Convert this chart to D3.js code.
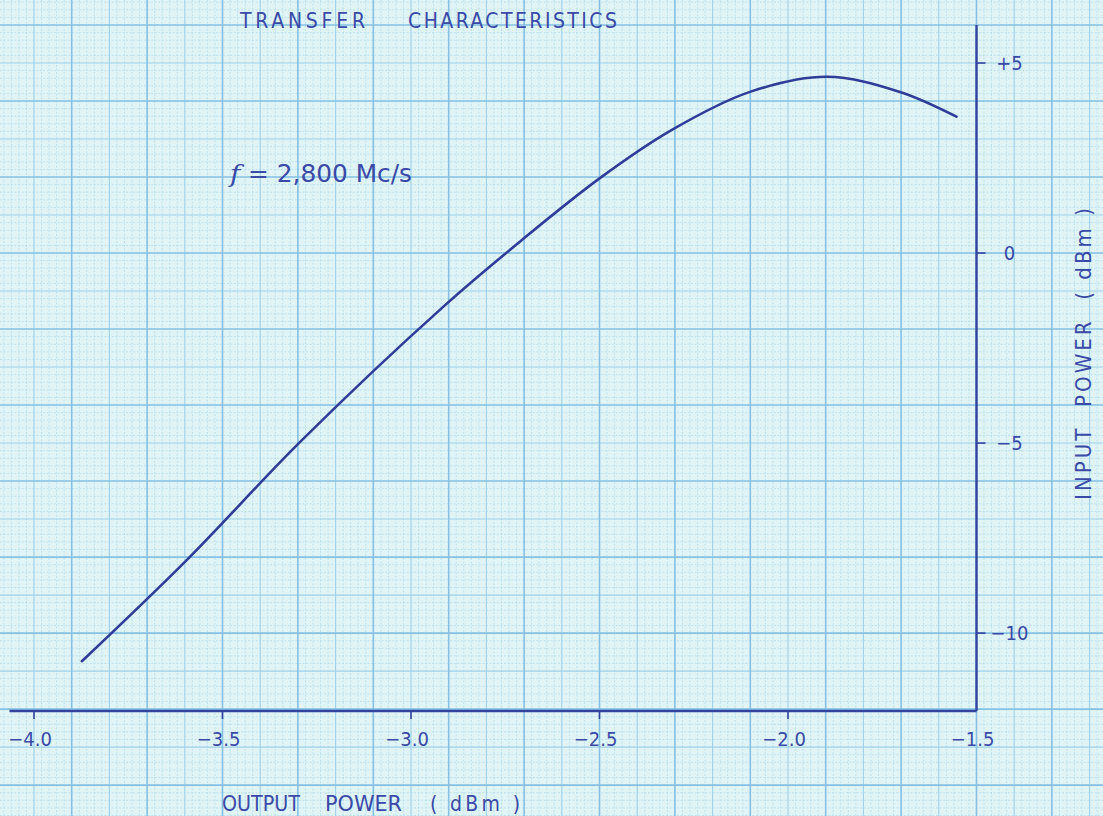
<!DOCTYPE html>
<html>
<head>
<meta charset="utf-8">
<script src="https://cdn.jsdelivr.net/npm/d3@7"></script>
<style>
  html, body { margin: 0; padding: 0; background: #e0f4f6; }
  svg { display: block; }
  text { font-family: "DejaVu Sans Condensed", "DejaVu Sans", sans-serif; fill: #3a4aa6; }
</style>
</head>
<body>
<svg id="chart" width="1103" height="816"></svg>
<script>
// Output power (dBm) on the horizontal axis, input power (dBm) on the vertical axis
const outputPower = [-3.873, -3.595, -3.294, -2.914, -2.711, -2.499, -2.308, -2.101, -1.897, -1.703, -1.553];
const inputPower  = [-10.74, -8.08, -4.97, -1.41, 0.30, 1.97, 3.24, 4.24, 4.64, 4.24, 3.59];

const xTicks = [-4.0, -3.5, -3.0, -2.5, -2.0, -1.5];
const xTickLabels = ["\u22124.0", "\u22123.5", "\u22123.0", "\u22122.5", "\u22122.0", "\u22121.5"];
const yTicks = [5, 0, -5, -10];
const yTickLabels = ["+5", "0", "\u22125", "\u221210"];

const W = 1103, H = 816;
const ink = "#33439e";

const svg = d3.select("#chart");

// scales: x(-4) at the left tick, x(-1.5) at the vertical axis
const x = d3.scaleLinear().domain([-4, -1.5]).range([34, 976.5]);
const y = d3.scaleLinear().domain([6, -12.05]).range([25, 711]);

// ---- graph-paper grid: 1 mm minor, 5 mm medium, 10 mm heavy ----
const grid = svg.append("g");
const xStep = 0.02, yStep = 0.2;
const xi0 = Math.floor((x.invert(0) + 1.5) / xStep) - 1;
const xi1 = Math.ceil((x.invert(W) + 1.5) / xStep) + 1;
const yi0 = Math.floor(y.invert(H) / yStep) - 1;
const yi1 = Math.ceil(y.invert(0) / yStep) + 1;

const mod = (a, n) => ((a % n) + n) % n;
const kind = i => (mod(i, 10) === 0 ? "heavy" : (mod(i, 5) === 0 ? "medium" : "minor"));
const gstyle = {
  minor:  { stroke: "#b3dcec", width: 0.8, dash: "2,1.6" },
  medium: { stroke: "#a0d0e8", width: 1.1, dash: null },
  heavy:  { stroke: "#86c0e3", width: 1.6, dash: null }
};

["minor", "medium", "heavy"].forEach(k => {
  const vx = d3.range(xi0, xi1 + 1).filter(i => kind(i) === k).map(i => -1.5 + i * xStep);
  grid.append("g").selectAll("line").data(vx).join("line")
    .attr("x1", d => x(d)).attr("x2", d => x(d))
    .attr("y1", 0).attr("y2", H)
    .attr("stroke", gstyle[k].stroke)
    .attr("stroke-width", gstyle[k].width)
    .attr("stroke-dasharray", gstyle[k].dash);
  const vy = d3.range(yi0, yi1 + 1).filter(i => kind(i) === k).map(i => i * yStep);
  grid.append("g").selectAll("line").data(vy).join("line")
    .attr("x1", 0).attr("x2", W)
    .attr("y1", d => y(d)).attr("y2", d => y(d))
    .attr("stroke", gstyle[k].stroke)
    .attr("stroke-width", gstyle[k].width)
    .attr("stroke-dasharray", gstyle[k].dash);
});

// ---- axes ----
const axes = svg.append("g").attr("stroke", ink).attr("stroke-width", 2.4).attr("fill", "none");
axes.append("line")
  .attr("x1", x(-4.065)).attr("x2", x(-1.5))
  .attr("y1", y(-12.05)).attr("y2", y(-12.05));
axes.append("line")
  .attr("x1", x(-1.5)).attr("x2", x(-1.5))
  .attr("y1", y(6)).attr("y2", y(-12.05));

// x ticks point downward
axes.append("g").selectAll("line").data(xTicks.slice(0, -1)).join("line")
  .attr("stroke-width", 1.6)
  .attr("x1", d => x(d)).attr("x2", d => x(d))
  .attr("y1", y(-12.05)).attr("y2", y(-12.05) + 8);

// y ticks point to the right
axes.append("g").selectAll("line").data(yTicks).join("line")
  .attr("stroke-width", 1.6)
  .attr("x1", x(-1.5)).attr("x2", x(-1.5) + 9)
  .attr("y1", d => y(d)).attr("y2", d => y(d));

// tick labels
svg.append("g").selectAll("text").data(xTicks).join("text")
  .attr("x", d => x(d) - 4)
  .attr("y", y(-12.05) + 35)
  .attr("text-anchor", "middle")
  .attr("font-size", 20)
  .text((d, i) => xTickLabels[i]);

svg.append("g").selectAll("text").data(yTicks).join("text")
  .attr("x", x(-1.5) + 33)
  .attr("y", d => y(d) + 7)
  .attr("text-anchor", "middle")
  .attr("font-size", 20)
  .text((d, i) => yTickLabels[i]);

// ---- transfer curve ----
const line = d3.line()
  .x(d => x(d[0]))
  .y(d => y(d[1]))
  .curve(d3.curveCatmullRom.alpha(0.5));

svg.append("path")
  .datum(outputPower.map((v, i) => [v, inputPower[i]]))
  .attr("d", line)
  .attr("fill", "none")
  .attr("stroke", "#2f3c98")
  .attr("stroke-width", 2.6)
  .attr("stroke-linecap", "round")
  .attr("stroke-linejoin", "round");

// ---- text ----
function label(txt, x0, y0, size, len, adjust) {
  return svg.append("text")
    .attr("x", x0).attr("y", y0).attr("font-size", size)
    .attr("textLength", len).attr("lengthAdjust", adjust || "spacing")
    .attr("xml:space", "preserve")
    .text(txt);
}
label("TRANSFER", 240, 28, 21, 125);
label("CHARACTERISTICS", 408, 28, 21, 209);

const ft = svg.append("text").attr("x", 230).attr("y", 182).attr("font-size", 25)
  .attr("textLength", 182).attr("lengthAdjust", "spacingAndGlyphs");
ft.append("tspan").attr("font-style", "italic").attr("font-family", "DejaVu Serif, serif").text("f");
ft.append("tspan").text(" = 2,800 Mc/s");

label("OUTPUT", 222, 811, 22, 78, "spacingAndGlyphs");
label("POWER", 325, 811, 22, 77, "spacingAndGlyphs");
label("( dBm )", 430, 811, 21, 90, "spacing");

svg.append("text")
  .attr("transform", "translate(1091,354) rotate(-90)")
  .attr("text-anchor", "middle")
  .attr("font-size", 22)
  .attr("textLength", 292).attr("lengthAdjust", "spacing")
  .attr("xml:space", "preserve")
  .text("INPUT  POWER  ( dBm )");
</script>
</body>
</html>
